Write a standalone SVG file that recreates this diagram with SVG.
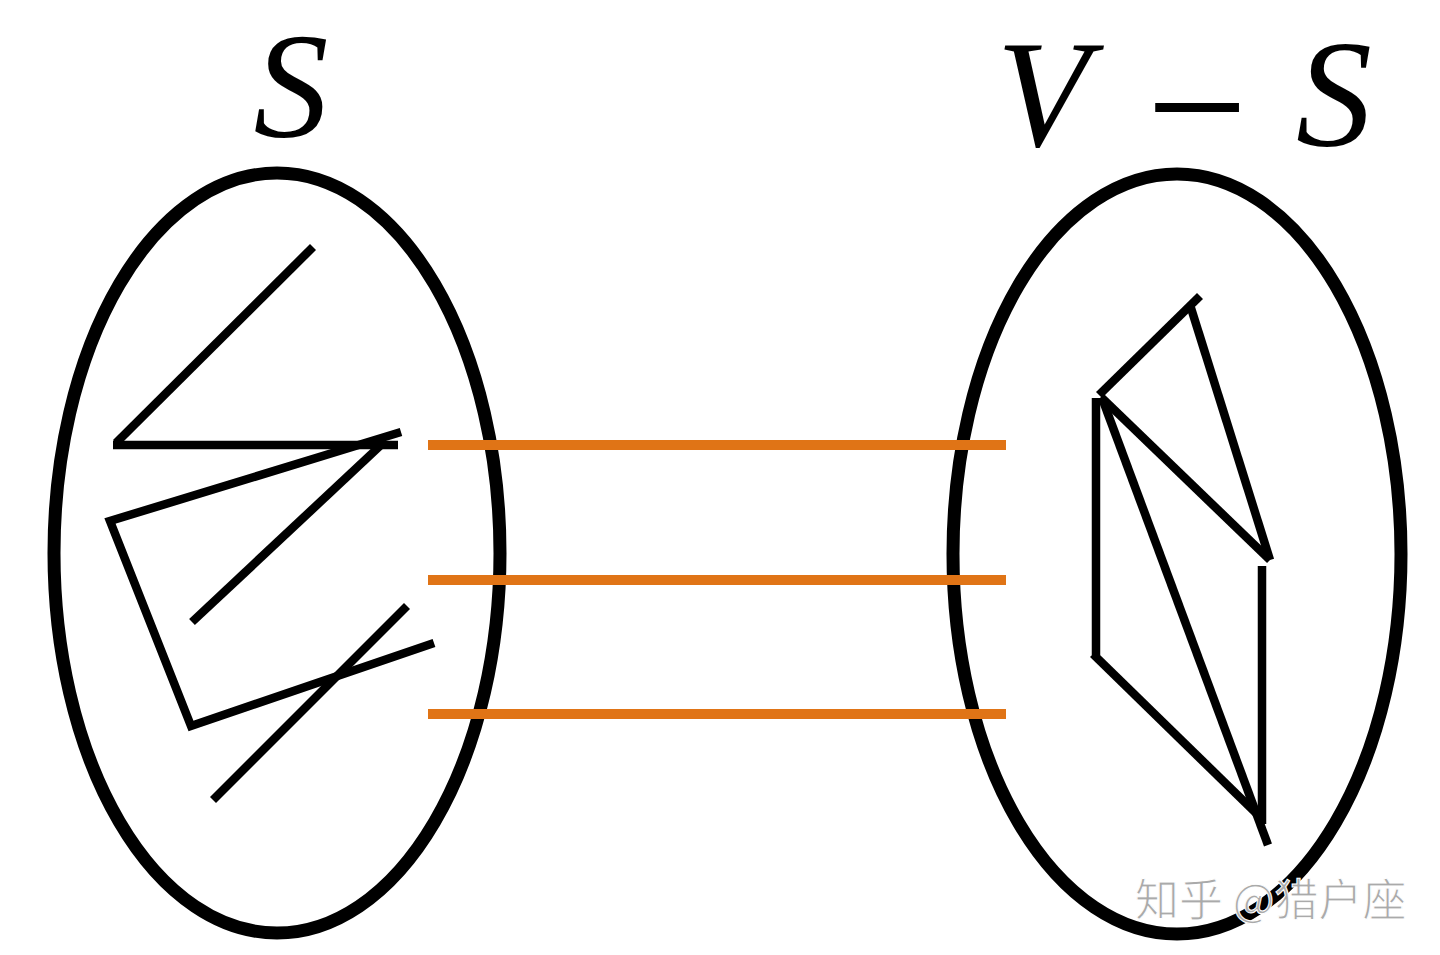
<svg xmlns="http://www.w3.org/2000/svg" width="1440" height="955" viewBox="0 0 1440 955">
<style>
.set{fill:none;stroke:#000;stroke-width:13}
.e{fill:none;stroke:#000;stroke-width:8.5;stroke-linecap:butt;stroke-linejoin:miter}
.cut{stroke:#E07416;stroke-width:10}
.math{font-family:"Liberation Serif","DejaVu Serif",serif;font-style:italic;fill:#000}
.op{font-family:"Liberation Serif","DejaVu Serif",serif;fill:#000}
.wm{font-family:"Noto Sans CJK SC","Noto Sans",sans-serif;fill:#aaaaaa;stroke:#ffffff;stroke-width:1}
</style>
<rect width="1440" height="955" fill="#fff"/>
<g id="set-S">
<ellipse class="set" cx="277" cy="553" rx="223" ry="380"/>
<text class="math" x="291" y="137" font-size="150" text-anchor="middle">S</text>
<g class="e">
<line x1="313" y1="247" x2="116" y2="443"/>
<line x1="113" y1="445" x2="398" y2="445"/>
<polyline points="401,432 110,521 191,726 434,643"/>
<line x1="381" y1="445" x2="192" y2="622"/>
<line x1="407" y1="606" x2="213" y2="800"/>
</g>
</g>
<g id="set-VS">
<ellipse class="set" cx="1177" cy="554" rx="224" ry="380"/>
<text class="math" x="1043" y="146" font-size="152" text-anchor="middle">V</text>
<text class="op" x="1197" y="167" font-size="180" text-anchor="middle">−</text>
<text class="math" x="1334" y="146" font-size="152" text-anchor="middle">S</text>
<g class="e">
<line x1="1200" y1="296" x2="1099" y2="395"/>
<line x1="1191" y1="308" x2="1270" y2="560"/>
<line x1="1101" y1="397" x2="1270" y2="560"/>
<line x1="1096" y1="398" x2="1096" y2="655"/>
<line x1="1093" y1="654" x2="1258" y2="815"/>
<line x1="1102" y1="398" x2="1268" y2="845"/>
<line x1="1262" y1="566" x2="1262" y2="824"/>
</g>
</g>
<g id="connectors">
<line class="cut" x1="428" y1="445" x2="1006" y2="445"/>
<line class="cut" x1="428" y1="580" x2="1006" y2="580"/>
<line class="cut" x1="428" y1="714" x2="1006" y2="714"/>
</g>
<text class="wm" x="1135" y="916" font-size="44">知乎 @猎户座</text>
</svg>
